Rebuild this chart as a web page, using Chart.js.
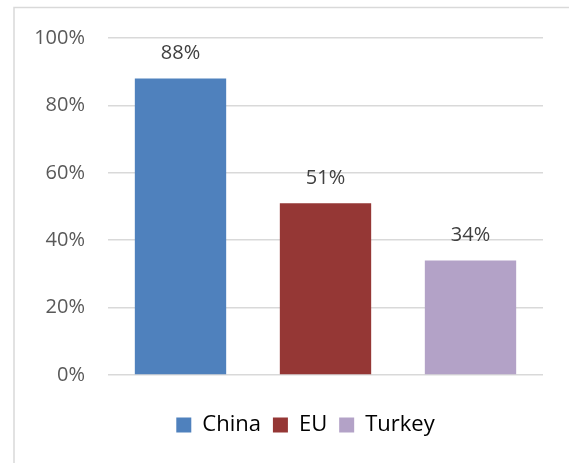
<!DOCTYPE html>
<html>
<head>
<meta charset="utf-8">
<script src="https://cdn.jsdelivr.net/npm/chart.js@4/dist/chart.umd.min.js"></script>
<style>
  html, body { margin: 0; padding: 0; background: #fff; }
  #wrap { width: 569px; height: 463px; }
</style>
</head>
<body>
<div id="wrap"><canvas id="chart" width="569" height="463"></canvas></div>
<script>
// 各地區比例
const regions = ['China', 'EU', 'Turkey'];
const shares = [0.88, 0.51, 0.34];
const barColors = ['#4f81bd', '#953735', '#b3a2c7'];
const yTicks = [0, 0.2, 0.4, 0.6, 0.8, 1.0];

const FONT = '"Open Sans", Lato, sans-serif';

// 外框（只有上、左兩邊在畫面內）
const frame = {
    id: 'frame',
    beforeDraw(chart) {
        const c = chart.ctx;
        c.save();
        c.strokeStyle = '#d9d9d9';
        c.lineWidth = 1.5;
        c.beginPath();
        c.moveTo(14, chart.height + 5);
        c.lineTo(14, 7.5);
        c.lineTo(chart.width + 5, 7.5);
        c.stroke();
        c.restore();
    }
};

// 圖例往右移，讓它置中在繪圖區下方
const legendShift = {
    id: 'legendShift',
    afterLayout(chart) {
        const lg = chart.legend;
        if (!lg) return;
        lg.left += 34;
        lg.right += 34;
    }
};

// 柱頂數值標籤
const valueLabels = {
    id: 'valueLabels',
    afterDatasetsDraw(chart) {
        const c = chart.ctx;
        const meta = chart.getDatasetMeta(0);
        c.save();
        c.font = '20px ' + FONT;
        c.fillStyle = '#404040';
        c.textAlign = 'center';
        c.textBaseline = 'middle';
        meta.data.forEach((bar, i) => {
            c.fillText(Math.round(shares[i] * 100) + '%', bar.x, bar.y - 25);
        });
        c.restore();
    }
};

new Chart(document.getElementById('chart'), {
    type: 'bar',
    data: {
        labels: regions,
        datasets: [{
            data: shares,
            backgroundColor: barColors,
            categoryPercentage: 0.63,
            barPercentage: 1.0
        }]
    },
    options: {
        responsive: false,
        animation: false,
        layout: { padding: { top: 38, right: 26, bottom: 17, left: 0 } },
        plugins: {
            tooltip: { enabled: false },
            legend: {
                position: 'bottom',
                labels: {
                    font: { family: FONT, size: 22 },
                    color: '#595959',
                    boxWidth: 15,
                    boxHeight: 15,
                    padding: 12,
                    generateLabels: () => regions.map((r, i) => ({
                        text: r,
                        fillStyle: barColors[i],
                        strokeStyle: barColors[i],
                        lineWidth: 0,
                        index: i
                    }))
                }
            }
        },
        scales: {
            x: {
                display: true,
                afterFit: (s) => { s.height = 27; },
                border: { display: false },
                grid: { display: false },
                ticks: { display: false }
            },
            y: {
                min: 0,
                max: 1,
                afterFit: (s) => { s.width = 108; },
                afterBuildTicks: (s) => { s.ticks = yTicks.map(v => ({ value: v })); },
                border: { display: false },
                grid: { color: '#d9d9d9', lineWidth: 1.5, drawTicks: false },
                ticks: {
                    padding: 23,
                    color: '#595959',
                    font: { family: FONT, size: 20 },
                    callback: (v) => Math.round(v * 100) + '%'
                }
            }
        }
    },
    plugins: [frame, legendShift, valueLabels]
});
</script>
</body>
</html>
